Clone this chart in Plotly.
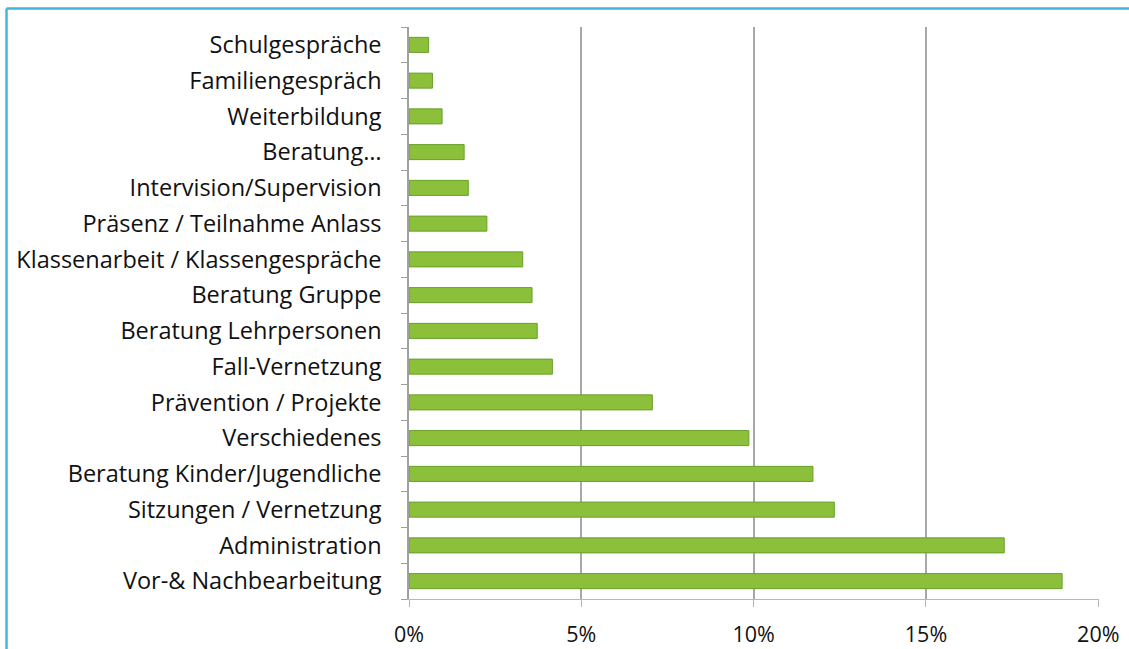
import plotly.graph_objects as go

categories = [
    "Vor-& Nachbearbeitung", "Administration", "Sitzungen / Vernetzung",
    "Beratung Kinder/Jugendliche", "Verschiedenes", "Prävention / Projekte",
    "Fall-Vernetzung", "Beratung Lehrpersonen", "Beratung Gruppe",
    "Klassenarbeit / Klassengespräche", "Präsenz / Teilnahme Anlass",
    "Intervision/Supervision", "Beratung…", "Weiterbildung",
    "Familiengespräch", "Schulgespräche",
]
values = [18.95, 17.27, 12.34, 11.72, 9.86, 7.06, 4.16, 3.72, 3.57, 3.30,
          2.26, 1.72, 1.60, 0.96, 0.68, 0.57]
x_ticks = [0, 5, 10, 15, 20]
x_tick_labels = ["0%", "5%", "10%", "15%", "20%"]

W, H = 1129, 649
ML, MR, MT, MB = 409, 30, 27, 50
pw, ph = W - ML - MR, H - MT - MB

fig = go.Figure(go.Bar(
    y=categories, x=values, orientation="h", width=0.42,
    marker=dict(color="#8cc03a", line=dict(color="#66a02a", width=1)),
))

def px_to_paper_x(px):
    return (px - ML) / pw

def py_to_paper_y(py):
    return (H - MB - py) / ph

fig.update_layout(
    width=W, height=H,
    margin=dict(l=ML, r=MR, t=MT, b=MB, pad=0, autoexpand=False),
    paper_bgcolor="white", plot_bgcolor="white",
    showlegend=False,
    font=dict(family="Open Sans", color="#111111"),
    shapes=[
        dict(type="line", xref="paper", yref="paper",
             x0=px_to_paper_x(6.5), x1=px_to_paper_x(W + 5),
             y0=py_to_paper_y(8.5), y1=py_to_paper_y(8.5),
             line=dict(color="#41b4e6", width=2.5)),
        dict(type="line", xref="paper", yref="paper",
             x0=px_to_paper_x(6.5), x1=px_to_paper_x(6.5),
             y0=py_to_paper_y(8.5), y1=py_to_paper_y(H + 5),
             line=dict(color="#41b4e6", width=2.5)),
    ],
)
fig.update_xaxes(
    range=[0, 20.02], tickvals=x_ticks, ticktext=x_tick_labels,
    showgrid=True, gridcolor="#a8a8a8", gridwidth=2,
    zeroline=False, showline=True, linecolor="#b8b8b8", linewidth=1,
    ticks="outside", ticklen=7, tickcolor="#b8b8b8",
    tickfont=dict(size=21.5, family="Open Sans", color="#111111"),
    ticklabelstandoff=9, automargin=False,
)
fig.update_yaxes(
    type="category", categoryorder="array", categoryarray=categories,
    range=[-0.5, len(categories) - 0.5],
    showgrid=False, zeroline=False,
    showline=True, linecolor="#a0a0a0", linewidth=1.5,
    ticks="outside", ticklen=6, tickcolor="#a0a0a0", tickson="boundaries",
    tickfont=dict(size=23.5, family="Open Sans", color="#111111"),
    ticklabelstandoff=21, automargin=False,
)

fig.write_html(
    "out.html",
    config={"displayModeBar": False},
    post_script="document.body.style.margin='0';document.body.style.overflow='hidden';",
)
